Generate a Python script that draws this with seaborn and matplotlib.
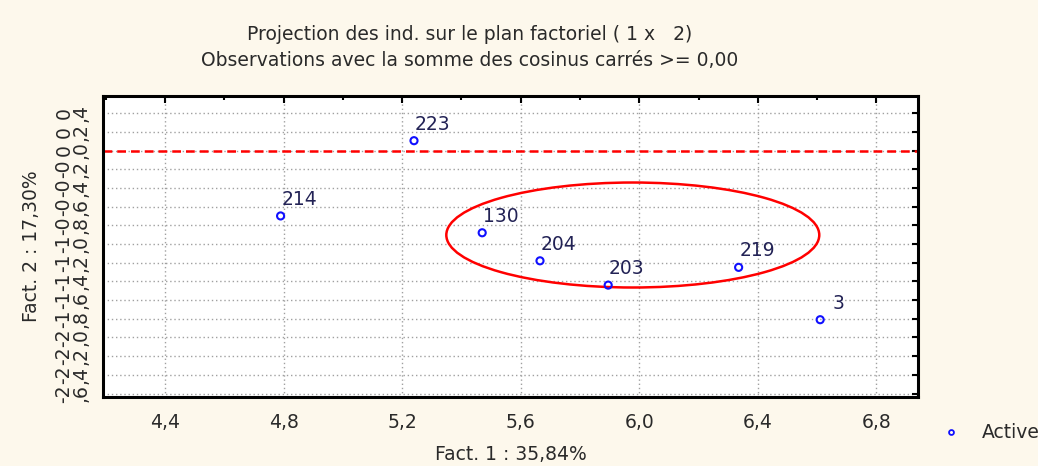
import matplotlib
matplotlib.use('Agg')
import matplotlib.pyplot as plt
from matplotlib.patches import Ellipse
from matplotlib.ticker import MultipleLocator, FixedLocator
import numpy as np
import pandas as pd
import seaborn as sns

# individuals projected on factorial plane (1 x 2)
ind_labels = ['223', '214', '130', '204', '203', '219', '3']
fact1 = [5.24, 4.79, 5.47, 5.665, 5.895, 6.335, 6.61]
fact2 = [0.105, -0.70, -0.88, -1.18, -1.44, -1.25, -1.81]

x_ticks = [4.4, 4.8, 5.2, 5.6, 6.0, 6.4, 6.8]
y_ticks = [0.4, 0.2, 0.0, -0.2, -0.4, -0.6, -0.8, -1.0, -1.2, -1.4, -1.6,
           -1.8, -2.0, -2.2, -2.4, -2.6]

# hand drawn group ellipse (center, width, height)
ellipse_center = (5.978, -0.904)
ellipse_w = 1.258
ellipse_h = 1.123

df = pd.DataFrame({'f1': fact1, 'f2': fact2, 'lab': ind_labels})

sns.set_style('white')
plt.rcParams['font.family'] = ['DejaVu Sans']

bg = '#fdf8ec'
txt = '#2a2a2a'
fs = 13.5
fig = plt.figure(figsize=(10.38, 4.66), dpi=100, facecolor=bg)
ax = fig.add_axes([103 / 1038, 68.7 / 466, 815 / 1038, 301.3 / 466])
ax.set_facecolor('white')

ax.set_xlim(4.191, 6.94)
ax.set_ylim(-2.64, 0.583)

# grid
for x in x_ticks:
    ax.axvline(x, color='#a0a0a0', lw=1, ls=(0, (1, 2)), zorder=0)
for y in y_ticks:
    ax.axhline(y, color='#a0a0a0', lw=1, ls=(0, (1, 2)), zorder=0)

ax.axhline(0, color='red', lw=1.8, dashes=(3.5, 2), zorder=1)

sns.scatterplot(data=df, x='f1', y='f2', ax=ax, marker='o', s=26,
                facecolor='none', edgecolor='#1010ff', linewidth=1.5,
                zorder=3, legend=False)

for x, y, lab in zip(fact1, fact2, ind_labels):
    ax.annotate(lab.rjust(3) if len(lab) < 3 else lab, (x, y),
                xytext=(0.5, 12), textcoords='offset points',
                ha='left', va='center', fontsize=fs, color='#222255')

ax.add_patch(Ellipse(ellipse_center, ellipse_w, ellipse_h, fill=False,
                     edgecolor='red', lw=1.8, zorder=2))

# ticks
ax.xaxis.set_major_locator(FixedLocator(x_ticks))
ax.xaxis.set_minor_locator(MultipleLocator(0.2))
ax.yaxis.set_major_locator(FixedLocator(y_ticks))
ax.set_xticklabels([f'{v:.1f}'.replace('.', ',') for v in x_ticks])
ylabs = []
for v in y_ticks:
    s = f'{v:.1f}'.replace('.', ',')
    if abs(v) < 1e-9:
        s = '0,0'
    a, b = s.split(',')
    ylabs.append(a + '\n,' + b)
ax.set_yticklabels(ylabs, rotation=90, va='center', ha='center',
                   linespacing=0.85)
ax.tick_params(axis='both', which='both', direction='in', top=True,
               right=True, color='black', labelcolor=txt, labelsize=fs)
ax.tick_params(axis='x', which='major', length=5, width=1.5, pad=11)
ax.tick_params(axis='x', which='minor', length=3, width=1.5)
ax.tick_params(axis='y', which='major', length=4, width=1.5, pad=22)
for sp in ax.spines.values():
    sp.set_color('black')
    sp.set_linewidth(2.2)

ax.set_xlabel('Fact. 1 : 35,84%', fontsize=fs, color=txt, labelpad=10)
ax.set_ylabel('Fact. 2 : 17,30%', fontsize=fs, color=txt, labelpad=10)

fig.text(470 / 1038, 1 - 35 / 466, 'Projection des ind. sur le plan factoriel ( 1 x   2)',
         ha='center', va='center', fontsize=fs, color=txt)
fig.text(470 / 1038, 1 - 61 / 466, 'Observations avec la somme des cosinus carrés >= 0,00',
         ha='center', va='center', fontsize=fs, color=txt)

# legend
fig.lines.append(plt.Line2D([951 / 1038], [1 - 432 / 466], marker='o', ms=3.5,
                            mfc='none', mec='#1010ff', mew=1.3, ls='none',
                            transform=fig.transFigure))
fig.text(982 / 1038, 1 - 432 / 466, 'Active', ha='left', va='center',
         fontsize=fs, color=txt)

fig.savefig('out.png', dpi=100, facecolor=bg)
